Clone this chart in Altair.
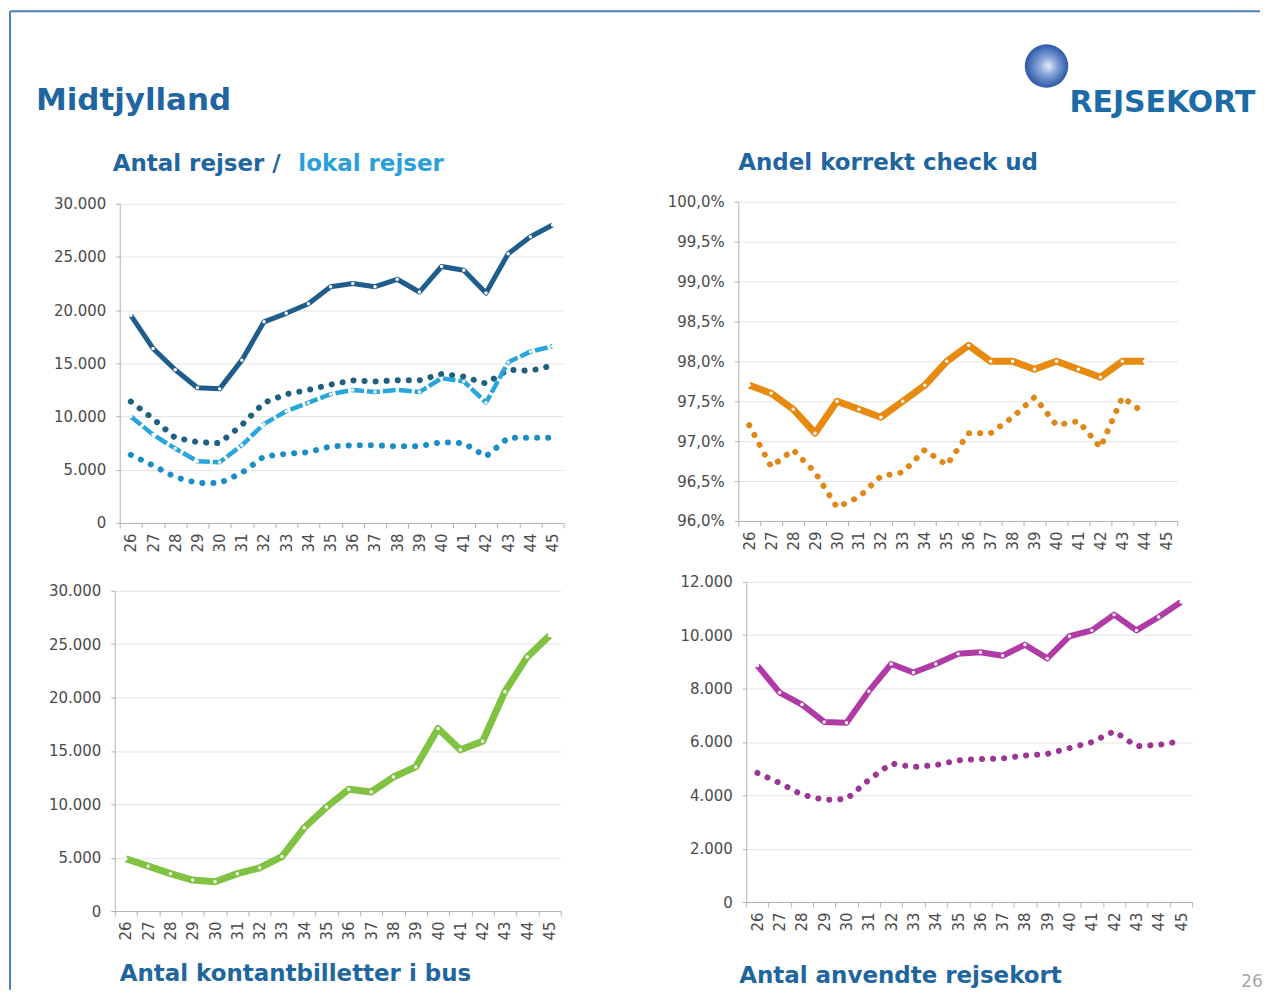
import altair as alt
import pandas as pd

# ---------------- data ----------------
weeks = [str(w) for w in range(26, 46)]

# Antal rejser / lokal rejser
rejser_total = [19500, 16400, 14400, 12700, 12600, 15300, 18900, 19700, 20600, 22200,
                22500, 22200, 22900, 21700, 24100, 23750, 21600, 25300, 26900, 28000]
rejser_total_dot = [11400, 9800, 8000, 7600, 7500, 9200, 11300, 12100, 12500, 13000,
                    13400, 13300, 13400, 13400, 14000, 13750, 13100, 14400, 14300, 14800]
lokal = [10000, 8300, 7000, 5800, 5700, 7300, 9300, 10500, 11300, 12100,
         12500, 12300, 12500, 12300, 13600, 13300, 11300, 15100, 16100, 16600]
lokal_dot = [6400, 5400, 4300, 3750, 3750, 4700, 6250, 6500, 6650, 7200,
             7300, 7300, 7200, 7200, 7600, 7500, 6250, 8000, 8000, 8000]

# Andel korrekt check ud (%)
checkud = [97.7, 97.6, 97.4, 97.1, 97.5, 97.4, 97.3, 97.5, 97.7, 98.0,
           98.2, 98.0, 98.0, 97.9, 98.0, 97.9, 97.8, 98.0, 98.0, None]
checkud_dot = [97.2, 96.68, 96.89, 96.61, 96.17, 96.3, 96.56, 96.61, 96.89, 96.7,
               97.1, 97.1, 97.3, 97.55, 97.2, 97.25, 96.92, 97.55, 97.35, None]

# Antal kontantbilletter i bus
kontant = [4900, 4200, 3500, 2900, 2750, 3500, 4050, 5100, 7800, 9750,
           11400, 11150, 12550, 13500, 17100, 15100, 15900, 20550, 23800, 25800]

# Antal anvendte rejsekort
rejsekort = [8860, 7850, 7400, 6750, 6720, 7900, 8920, 8600, 8920, 9300,
             9360, 9230, 9640, 9130, 9960, 10180, 10770, 10180, 10680, 11240]
rejsekort_dot = [4840, 4460, 4020, 3830, 3860, 4580, 5190, 5060, 5130, 5310,
                 5360, 5380, 5490, 5550, 5770, 5990, 6400, 5840, 5890, 6030]

ticks_30k = [0, 5000, 10000, 15000, 20000, 25000, 30000]
ticks_pct = [96.0, 96.5, 97.0, 97.5, 98.0, 98.5, 99.0, 99.5, 100.0]
ticks_12k = [0, 2000, 4000, 6000, 8000, 10000, 12000]

# ---------------- style ----------------
FONT = "DejaVu Sans"
TITLE_DARK = "#1f66a0"
TITLE_LIGHT = "#2a9fd9"
FRAME = "#4f81bd"
AXIS_GRAY = "#b3b3b3"


def frame_df(values):
    df = pd.DataFrame({"week": weeks, "value": values})
    return df.dropna()


def x_enc():
    return alt.X("week:O", bandPosition=0.5,
                 scale=alt.Scale(type="band", domain=weeks, paddingInner=0, paddingOuter=0),
                 axis=alt.Axis(title=None, labelAngle=270, grid=False, ticks=True,
                               tickBand="extent", tickSize=5, labelPadding=5))


def y_enc(domain, values, label_expr):
    return alt.Y("value:Q", scale=alt.Scale(domain=domain, nice=False, zero=False),
                 axis=alt.Axis(title=None, values=values, labelExpr=label_expr,
                               ticks=True, tickSize=4, labelPadding=10))


THOUSANDS = "replace(format(datum.value, ','), ',', '.')"
PERCENT = "replace(format(datum.value, '.1f'), '.', ',') + '%'"


def solid_line(values, color, width, y, dash=None):
    kw = dict(color=color, strokeWidth=width, strokeJoin="round",
              point=alt.OverlayMarkDef(filled=True, fill="white", size=12, strokeWidth=0))
    if dash:
        kw["strokeDash"] = dash
    return alt.Chart(frame_df(values)).mark_line(**kw).encode(x=x_enc(), y=y)


def dotted_line(values, color, y):
    return alt.Chart(frame_df(values)).mark_line(
        color=color, strokeWidth=6, strokeDash=[0.1, 11], strokeCap="round"
    ).encode(x=x_enc(), y=y)


def label(text, x, y, color, size=23, align="left", bold=True):
    kw = dict(align=align, baseline="middle", font=FONT, fontSize=size, color=color)
    if bold:
        kw["fontWeight"] = "bold"
    return alt.Chart(pd.DataFrame({"t": [text]})).mark_text(**kw).encode(
        x=alt.value(x), y=alt.value(y), text="t:N")


def spacer(w, h):
    return alt.Chart(pd.DataFrame({"s": [0]})).mark_point(
        opacity=0, size=1, filled=True, strokeWidth=0
    ).encode(x=alt.value(1), y=alt.value(1)).properties(width=w, height=h)


def place(panel, dx, dy):
    """Put a panel's plot origin at (dx, dy) from the page origin (8, 8)."""
    return alt.hconcat(
        spacer(dx, 1),
        alt.vconcat(spacer(1, dy), panel, spacing=0, bounds="flush"),
        spacing=0, bounds="flush")


# ---------------- panels ----------------
y1 = y_enc([0, 30000], ticks_30k, THOUSANDS)
chart1 = alt.layer(
    dotted_line(lokal_dot, "#1b8fc4", y1),
    dotted_line(rejser_total_dot, "#1f5f80", y1),
    solid_line(lokal, "#27a5dc", 4.5, y1, dash=[13, 3]),
    solid_line(rejser_total, "#1f5d8c", 5, y1),
    label("Antal rejser /", -7, -40, TITLE_DARK),
    label("lokal rejser", 179, -40, TITLE_LIGHT),
).properties(width=445, height=320)

y2 = y_enc([96, 100], ticks_pct, PERCENT)
chart2 = alt.layer(
    dotted_line(checkud_dot, "#df8718", y2),
    solid_line(checkud, "#e88a10", 7, y2),
    label("Andel korrekt check ud", 0, -39, TITLE_DARK),
).properties(width=440, height=320)

y3 = y_enc([0, 30000], ticks_30k, THOUSANDS)
chart3 = alt.layer(
    solid_line(kontant, "#80c342", 7, y3),
    label("Antal kontantbilletter i bus", 5, 384, TITLE_DARK),
).properties(width=447, height=321)

y4 = y_enc([0, 12000], ticks_12k, THOUSANDS)
chart4 = alt.layer(
    dotted_line(rejsekort_dot, "#9c3594", y4),
    solid_line(rejsekort, "#b03aa6", 6, y4),
    label("Antal anvendte rejsekort", -7, 395, TITLE_DARK),
    label("26", 507, 401, "#a6a6a6", size=17, align="center", bold=False),
).properties(width=447, height=321)

# ---------------- header + frame (origin at page 9, 9) ----------------
sphere_fill = alt.RadialGradient(
    gradient="radial",
    stops=[alt.GradientStop(color="#e4ecf8", offset=0),
           alt.GradientStop(color="#7f9fd6", offset=0.45),
           alt.GradientStop(color="#2d58a8", offset=1)],
    x1=0.55, y1=0.5, r1=0, x2=0.5, y2=0.5, r2=0.5)

one = pd.DataFrame({"s": [0]})
header = alt.layer(
    alt.Chart(one).mark_rule(color=FRAME, strokeWidth=2).encode(
        x=alt.value(1), x2=alt.value(1254), y=alt.value(1)),
    alt.Chart(one).mark_rule(color=FRAME, strokeWidth=2).encode(
        x=alt.value(1), y=alt.value(1), y2=alt.value(982)),
    label("Midtjylland", 27, 91, TITLE_DARK, size=31),
    alt.Chart(one).mark_point(
        shape="circle", size=1900, filled=True, fill=sphere_fill, strokeWidth=0, opacity=1
    ).encode(x=alt.value(1040), y=alt.value(56)),
    label("REJSEKORT", 1063, 93, "#1a6ba6", size=30),
).properties(width=10, height=10)

# every placed group has zero flush size, so each one starts at the page origin
chart = alt.vconcat(
    place(header, 1, 1),
    place(chart1, 112, 195),
    place(chart2, 732, 193),
    place(chart3, 107, 583),
    place(chart4, 740, 574),
    spacing=0, bounds="flush",
).properties(padding=0, background="white").configure_view(strokeWidth=0).configure_axis(
    labelFont=FONT, labelFontSize=15, labelColor="#4a4a4a",
    gridColor="#e3e3e3", domainColor=AXIS_GRAY, tickColor=AXIS_GRAY,
)

chart.save("out.html", embed_options={"renderer": "svg", "actions": False})
